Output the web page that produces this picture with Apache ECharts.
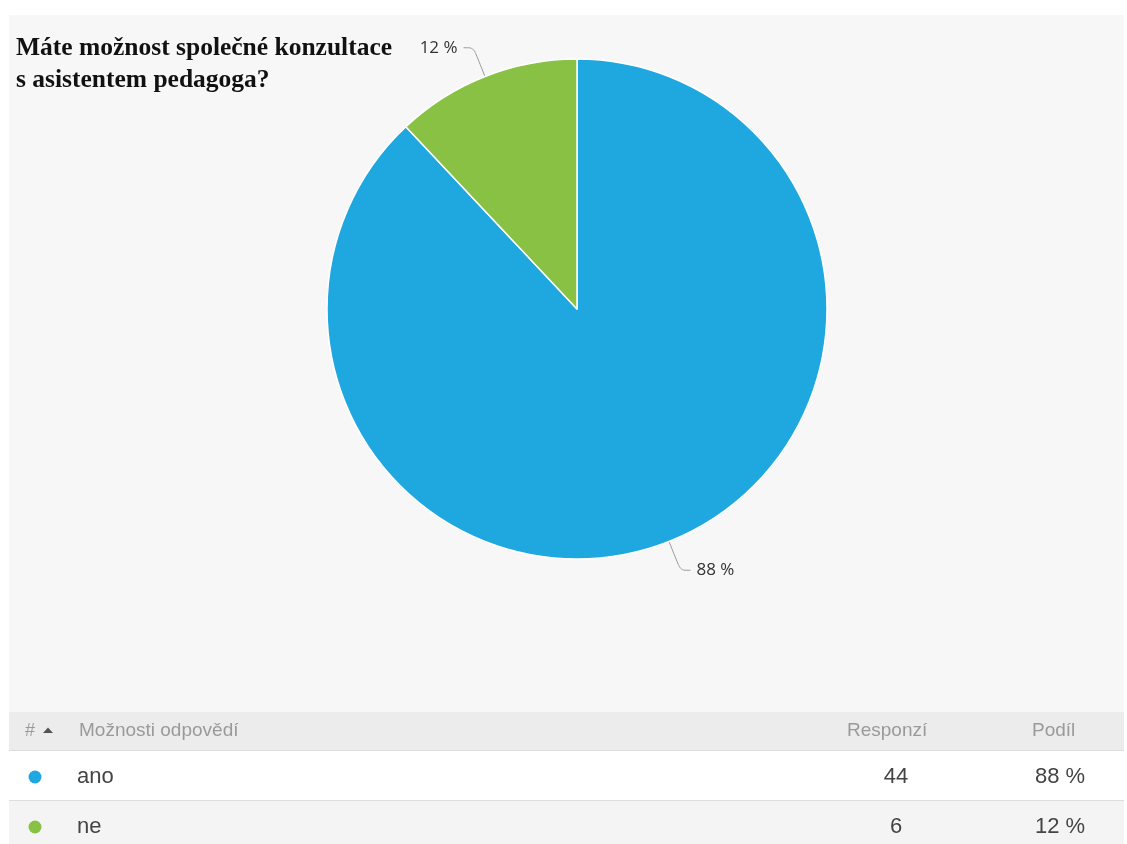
<!DOCTYPE html>
<html>
<head>
<meta charset="utf-8">
<script src="https://cdn.jsdelivr.net/npm/echarts@6/dist/echarts.min.js"></script>
<style>
  html, body { margin: 0; padding: 0; background: #ffffff; }
  #chart { width: 1127px; height: 844px; }
</style>
</head>
<body>
<div id="chart"></div>
<script>
// Survey answers
const categories = ['ano', 'ne'];
const responses = [44, 6];
const shares = [88, 12];
const sliceColors = ['#1fa8e0', '#88c143'];
const titleLines = ['Máte možnost společné konzultace', 's asistentem pedagoga?'];
const tableHeaders = ['#', 'Možnosti odpovědí', 'Responzí', 'Podíl'];

const chart = echarts.init(document.getElementById('chart'), null, { renderer: 'canvas' });

const tableFont = '"Liberation Sans", Arial, sans-serif';
const titleFont = 'bold 25.5px "Liberation Serif", "Times New Roman", serif';
const rowTop = 750;
const rowHeights = [50, 44];
const rowFills = ['#ffffff', '#f4f4f4'];

// Answer table drawn underneath the pie
const tableElements = [];
tableElements.push({ type: 'rect', z: 1, shape: { x: 9, y: 712, width: 1115, height: 38 }, style: { fill: '#ececec' } });
tableElements.push({ type: 'text', z: 3, x: 25, y: 731, style: { text: tableHeaders[0], fontSize: 18, fontFamily: tableFont, fill: '#9a9a9a', verticalAlign: 'middle' } });
tableElements.push({ type: 'polygon', z: 3, shape: { points: [[43, 733], [48, 727.5], [53, 733]] }, style: { fill: '#555555' } });
tableElements.push({ type: 'text', z: 3, x: 79, y: 731, style: { text: tableHeaders[1], fontSize: 19, fontFamily: tableFont, fill: '#9a9a9a', verticalAlign: 'middle' } });
tableElements.push({ type: 'text', z: 3, x: 847, y: 731, style: { text: tableHeaders[2], fontSize: 19, fontFamily: tableFont, fill: '#9a9a9a', verticalAlign: 'middle' } });
tableElements.push({ type: 'text', z: 3, x: 1032, y: 731, style: { text: tableHeaders[3], fontSize: 19, fontFamily: tableFont, fill: '#9a9a9a', verticalAlign: 'middle' } });

let y = rowTop;
categories.forEach(function (name, i) {
  const h = rowHeights[i];
  const cy = y + 27;
  tableElements.push({ type: 'rect', z: 1, shape: { x: 9, y: y, width: 1115, height: h }, style: { fill: rowFills[i] } });
  tableElements.push({ type: 'line', z: 2, shape: { x1: 9, y1: y + 0.5, x2: 1124, y2: y + 0.5 }, style: { stroke: '#dddddd', lineWidth: 1 } });
  tableElements.push({ type: 'circle', z: 3, shape: { cx: 35, cy: cy, r: 6.5 }, style: { fill: sliceColors[i] } });
  tableElements.push({ type: 'text', z: 3, x: 77, y: cy, style: { text: name, fontSize: 22, fontFamily: tableFont, fill: '#444444', verticalAlign: 'middle' } });
  tableElements.push({ type: 'text', z: 3, x: 896, y: cy, style: { text: String(responses[i]), fontSize: 22, fontFamily: tableFont, fill: '#444444', align: 'center', verticalAlign: 'middle' } });
  tableElements.push({ type: 'text', z: 3, x: 1035, y: cy, style: { text: shares[i] + ' %', fontSize: 22, fontFamily: tableFont, fill: '#444444', verticalAlign: 'middle' } });
  y += h;
});

const option = {
  backgroundColor: '#ffffff',
  animation: false,
  graphic: {
    elements: [
      { type: 'rect', z: 0, shape: { x: 9, y: 15, width: 1115, height: 697 }, style: { fill: '#f7f7f7' } },
      { type: 'text', z: 3, x: 16, y: 48, style: { text: titleLines[0], font: titleFont, fill: '#111111', verticalAlign: 'middle' } },
      { type: 'text', z: 3, x: 16, y: 80, style: { text: titleLines[1], font: titleFont, fill: '#111111', verticalAlign: 'middle' } }
    ].concat(tableElements)
  },
  series: [{
    type: 'pie',
    z: 5,
    center: [577, 309],
    radius: 250,
    startAngle: 90,
    clockwise: true,
    avoidLabelOverlap: false,
    itemStyle: { borderColor: '#ffffff', borderWidth: 1.5 },
    label: {
      show: true,
      position: 'outside',
      formatter: '{c} %',
      fontSize: 17,
      fontFamily: '"Open Sans", sans-serif',
      color: '#333333',
      distanceToLabelLine: 6
    },
    labelLine: {
      show: true,
      length: 31,
      length2: 10,
      smooth: 0.3,
      lineStyle: { color: '#9a9a9a', width: 1 }
    },
    emphasis: { disabled: true },
    data: categories.map(function (name, i) {
      return { name: name, value: shares[i], itemStyle: { color: sliceColors[i] } };
    })
  }]
};

chart.setOption(option);
</script>
</body>
</html>
